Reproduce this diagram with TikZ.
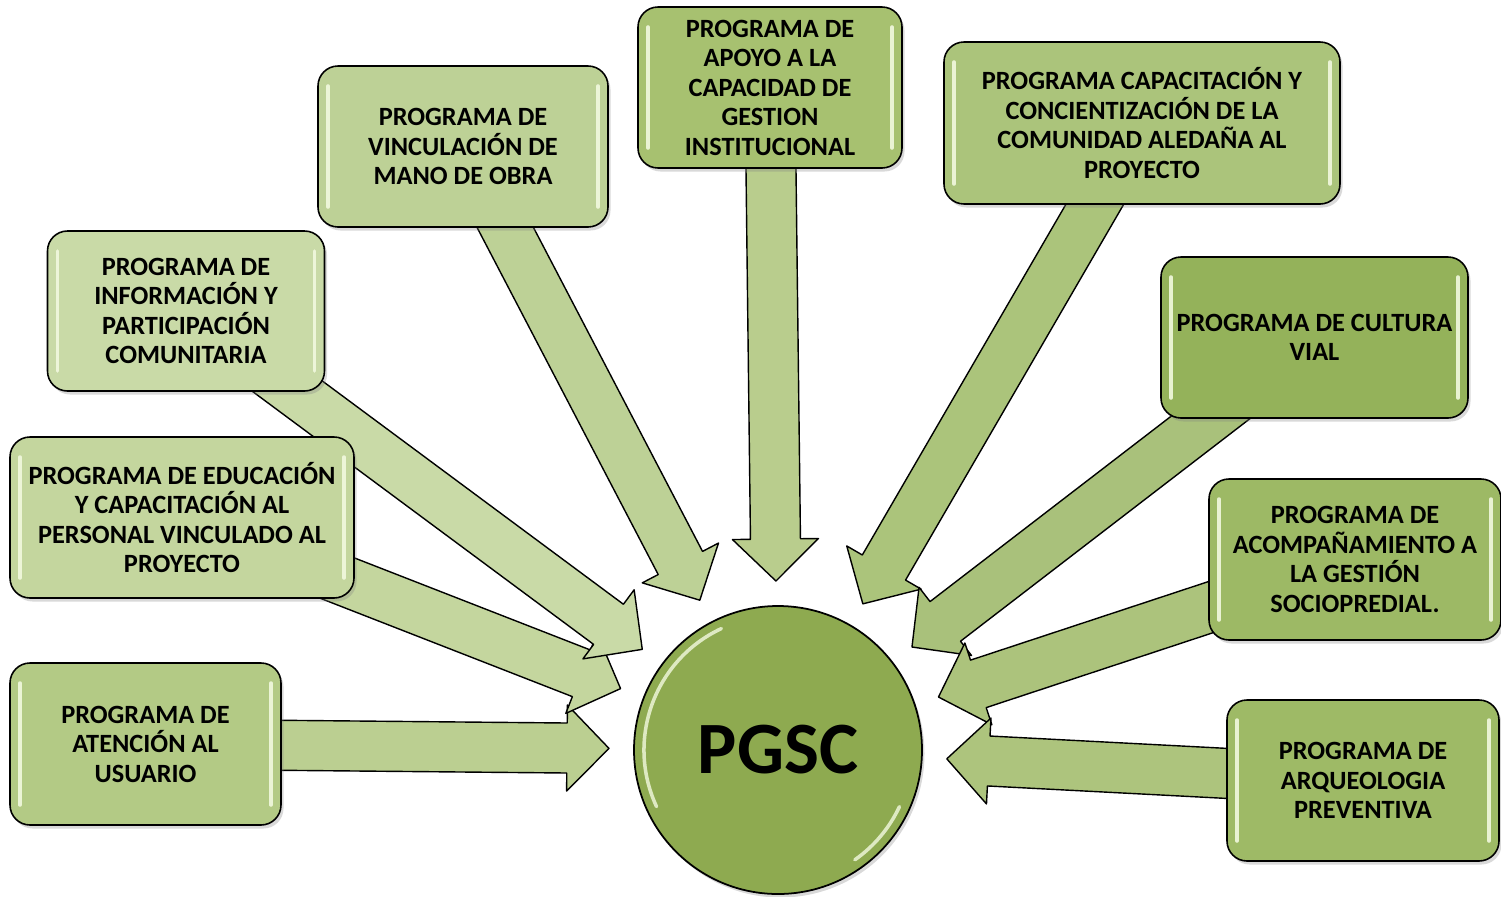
\documentclass[tikz,border=0pt]{standalone}
\usepackage{fontspec}
\setmainfont{Carlito}
\usetikzlibrary{calc, backgrounds, shadows}
\definecolor{pgscgreen}{HTML}{8EAA50}
\definecolor{infogreen}{HTML}{C9DAA7}
\definecolor{edugreen}{HTML}{C4D69E}
\definecolor{atengreen}{HTML}{B3CA85}
\definecolor{vincgreen}{HTML}{BDD196}
\definecolor{apoyogreen}{HTML}{A7C170}
\definecolor{capacgreen}{HTML}{ABC47B}
\definecolor{viagreen}{HTML}{94B25A}
\definecolor{acompgreen}{HTML}{9DB965}
\definecolor{arqgreen}{HTML}{9EBA66}
\definecolor{glossgreen}{HTML}{F2F9DF}

% block arrow from a programme box towards PGSC
\newcommand{\feedarrow}[2]{%
  \coordinate (#1-tip) at ($(pgsc)!3.38cm!(#1)$);
  \coordinate (#1-base) at ($(#1-tip)!0.84cm!(#1)$);
  \filldraw[feed, fill=#2] ($(#1)!0.5cm!90:(#1-tip)$) -- ($(#1-base)!0.5cm!90:(#1-tip)$)
    -- ($(#1-base)!0.86cm!90:(#1-tip)$) -- (#1-tip) -- ($(#1-base)!0.86cm!-90:(#1-tip)$)
    -- ($(#1-base)!0.5cm!-90:(#1-tip)$) -- ($(#1)!0.5cm!-90:(#1-tip)$) -- cycle;
}

\begin{document}
\begin{tikzpicture}[
  prog/.style={draw=black, line width=0.9pt, rounded corners=0.4cm, align=center,
    font=\fontsize{15}{16.8}\selectfont\bfseries, inner sep=0pt, minimum height=3.22cm,
    drop shadow={shadow xshift=0.05cm, shadow yshift=-0.07cm, opacity=0.3},
    path picture={
      \draw[glossgreen, line width=2pt, line cap=round, opacity=0.9]
        ([shift={(0.2,-0.4)}]path picture bounding box.north west) -- ([shift={(0.2,0.4)}]path picture bounding box.south west)
        ([shift={(-0.2,-0.4)}]path picture bounding box.north east) -- ([shift={(-0.2,0.4)}]path picture bounding box.south east);
    }},
  feed/.style={draw=black, line width=0.8pt, line join=round}
]
  \useasboundingbox (0,0) rectangle (30.02,-17.92);

  % Centre
  \node[circle, draw=black, line width=1pt, fill=pgscgreen, minimum size=5.76cm, inner sep=0pt,
    font=\fontsize{42}{42}\selectfont\bfseries,
    drop shadow={shadow xshift=0.05cm, shadow yshift=-0.07cm, opacity=0.3},
    path picture={
      \draw[glossgreen, line width=2pt, line cap=round, opacity=0.8]
        ($(path picture bounding box.center)+(115:2.68)$) arc (115:205:2.68)
        ($(path picture bounding box.center)+(-25:2.68)$) arc (-25:-55:2.68);
    }] (pgsc) at (15.56,-15.0) {PGSC};

  % Left side
  \node[prog, fill=infogreen, minimum width=5.54cm, minimum height=3.2cm] (info) at (3.72,-6.22)
    {PROGRAMA DE\\INFORMACIÓN Y\\PARTICIPACIÓN\\COMUNITARIA};
  \node[prog, fill=edugreen, minimum width=6.88cm] (edu) at (3.64,-10.35)
    {PROGRAMA DE EDUCACIÓN\\Y CAPACITACIÓN AL\\PERSONAL VINCULADO AL\\PROYECTO};
  \node[prog, fill=atengreen, minimum width=5.42cm, minimum height=3.24cm] (aten) at (2.91,-14.88)
    {PROGRAMA DE\\ATENCIÓN AL\\USUARIO};

  % Top
  \node[prog, fill=vincgreen, minimum width=5.8cm] (vinc) at (9.26,-2.93)
    {PROGRAMA DE\\VINCULACIÓN DE\\MANO DE OBRA};
  \node[prog, fill=apoyogreen, minimum width=5.28cm] (apoyo) at (15.4,-1.75)
    {PROGRAMA DE\\APOYO A LA\\CAPACIDAD DE\\GESTION\\INSTITUCIONAL};
  \node[prog, fill=capacgreen, minimum width=7.92cm, minimum height=3.24cm] (capac) at (22.84,-2.46)
    {PROGRAMA CAPACITACIÓN Y\\CONCIENTIZACIÓN DE LA\\COMUNIDAD ALEDAÑA AL\\PROYECTO};

  % Right side
  \node[prog, fill=viagreen, minimum width=6.14cm] (via) at (26.29,-6.75)
    {PROGRAMA DE CULTURA\\VIAL};
  \node[prog, fill=acompgreen, minimum width=5.84cm] (acomp) at (27.1,-11.19)
    {PROGRAMA DE\\ACOMPAÑAMIENTO A\\LA GESTIÓN\\SOCIOPREDIAL.};
  \node[prog, fill=arqgreen, minimum width=5.44cm] (arq) at (27.26,-15.61)
    {PROGRAMA DE\\ARQUEOLOGIA\\PREVENTIVA};

  % Arrows behind the boxes
  \begin{scope}[on background layer]
    \feedarrow{aten}{atengreen!90!white}
    \feedarrow{edu}{edugreen}
    \feedarrow{info}{infogreen}
    \feedarrow{vinc}{vincgreen}
    \feedarrow{apoyo}{apoyogreen!80!white}
    \feedarrow{capac}{capacgreen}
    \feedarrow{via}{viagreen!80!white}
    \feedarrow{acomp}{acompgreen!85!white}
    \feedarrow{arq}{arqgreen!85!white}
  \end{scope}
\end{tikzpicture}
\end{document}
